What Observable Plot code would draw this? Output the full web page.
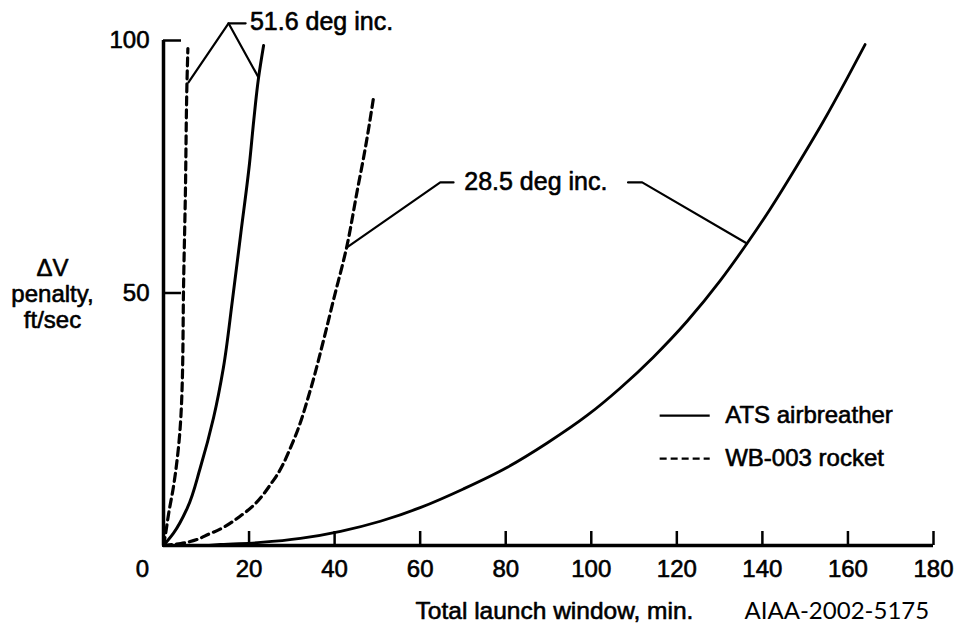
<!DOCTYPE html>
<html><head><meta charset="utf-8">
<script src="https://cdn.jsdelivr.net/npm/d3@7"></script>
<script src="https://cdn.jsdelivr.net/npm/@observablehq/plot@0.6"></script>
<style>body{margin:0;background:#fff;} svg{display:block}</style>
</head><body><div id="chart"></div>
<script>
// Tick values / labels
const xTicks = [0, 20, 40, 60, 80, 100, 120, 140, 160, 180];
const yTicks = [50, 100];

// Series: [launch window (min), delta-V penalty (ft/sec)]
const ats516 = [[0,0],[2.3,2.4],[5.6,7.5],[8.6,15.4],[11.7,25.3],[14.0,35.2],[16.1,48.5],[18.1,62.0],[20.1,75.6],[21.1,84.2],[22.2,92.5],[23.4,99.0]];
const wb516  = [[0,0],[0.5,2.4],[1.2,6.3],[2.3,11.5],[3.5,19.4],[4.4,32.7],[4.7,51.9],[5.1,68.9],[5.5,92.1],[5.7,98.4]];
const wb285  = [[0,0],[4.0,0.4],[11.0,2.4],[18.7,6.3],[25.7,12.9],[30.4,20.8],[34.3,30.7],[37.4,40.6],[39.7,48.5],[42.8,59.0],[45.3,70.3],[47.2,78.8],[49.1,88.7]];
const ats285 = [[10,0],[13.3,0.2],[22.7,0.6],[32.0,1.4],[41.4,2.8],[50.7,4.8],[60.0,7.5],[70.1,11.2],[80.4,15.5],[89.7,20.3],[99.1,25.8],[106.8,31.2],[114.5,37.3],[122.4,44.4],[130.1,52.4],[136.4,59.8],[141.8,66.6],[148.1,75.2],[154.2,83.9],[159.8,92.5],[164.0,99.2]];

// Annotation leaders (data coordinates)
const lead516a = [[5.84,91.7],[15.2,103.4],[19.2,103.4]];
const lead516b = [[15.2,103.4],[22.2,92.7]];
const lead285a = [[42.8,59.0],[64.7,71.9],[67.8,71.9]];
const lead285b = [[108.6,71.9],[111.9,71.9],[136.4,59.8]];
const labels = [
  {x: 20.2, y: 103.6, text: "51.6 deg inc."},
  {x: 70.3, y: 71.9, text: "28.5 deg inc."}
];
// Legend
const legendNames = ["ATS airbreather", "WB-003 rocket"];
const legendY = [25.7, 17.2];
const legendX = [116.1, 127.8];

const W = 955, H = 636;
const mL = 163, mR = 22, mT = 40, mB = 91;
const plotW = W - mL - mR, plotH = H - mT - mB;
const font = "Liberation Sans, Arial, Helvetica, sans-serif";
const txt = {fontFamily: font, fontSize: 24, fill: "black", stroke: "black", strokeWidth: 0.6};

const P = d => ({x: d[0], y: d[1]});
const dash = "8,5";

const chart = Plot.plot({
  width: W, height: H,
  marginLeft: mL, marginRight: mR, marginTop: mT, marginBottom: mB,
  x: {domain: [0, 180], axis: null},
  y: {domain: [0, 100], axis: null},
  style: {background: "white", overflow: "visible"},
  marks: [
    // axes
    Plot.ruleY([0], {stroke: "black", strokeWidth: 3.5}),
    Plot.ruleX([0], {stroke: "black", strokeWidth: 3.5}),
    Plot.tickX(xTicks.filter(d => d > 0), {x: d => d, insetTop: plotH - 14, stroke: "black", strokeWidth: 2.5}),
    Plot.tickY(yTicks, {y: d => d, insetRight: plotW - 18, stroke: "black", strokeWidth: 2.5}),
    Plot.text(xTicks.filter(d => d > 0), {x: d => d, text: d => String(d), frameAnchor: "bottom", dy: 31, ...txt}),
    Plot.text([xTicks[0]], {x: d => d, text: d => String(d), frameAnchor: "bottom", dy: 31, dx: -21, ...txt}),
    Plot.text(yTicks, {y: d => d, text: d => String(d), frameAnchor: "left", textAnchor: "end", dx: -14, ...txt}),
    // axis titles
    Plot.text(["ΔV\npenalty,\nft/sec"], {y: 49.9, frameAnchor: "left", dx: -111, textAnchor: "middle", lineHeight: 1.1, text: d => d, ...txt}),
    Plot.text(["Total launch window, min."], {x: 91.4, frameAnchor: "bottom", dy: 73, text: d => d, ...txt, fontSize: 24.5}),
    Plot.text(["AIAA-2002-5175"], {x: 157.4, frameAnchor: "bottom", dy: 73, text: d => d, fontFamily: "Lato, Open Sans, sans-serif", fontSize: 24, fill: "black"}),
    // curves
    Plot.line(ats516.map(P), {x: "x", y: "y", curve: "monotone-y", stroke: "black", strokeWidth: 3}),
    Plot.line(wb516.map(P), {x: "x", y: "y", curve: "monotone-y", stroke: "black", strokeWidth: 3.2, strokeDasharray: dash}),
    Plot.line(wb285.map(P), {x: "x", y: "y", curve: "monotone-y", stroke: "black", strokeWidth: 3.2, strokeDasharray: dash}),
    Plot.line(ats285.map(P), {x: "x", y: "y", curve: "monotone-x", stroke: "black", strokeWidth: 2.8}),
    // leaders
    ...[lead516a, lead516b, lead285a, lead285b].map(l => Plot.line(l.map(P), {x: "x", y: "y", stroke: "black", strokeWidth: 2.2})),
    Plot.text(labels, {x: "x", y: "y", text: "text", textAnchor: "start", ...txt, fontSize: 25}),
    // legend
    Plot.ruleY([legendY[0]], {y: d => d, x1: legendX[0], x2: legendX[1], stroke: "black", strokeWidth: 2.2}),
    Plot.ruleY([legendY[1]], {y: d => d, x1: legendX[0], x2: legendX[1], stroke: "black", strokeWidth: 2.2, strokeDasharray: "7,4"}),
    Plot.text(legendNames, {x: legendX[1], y: (d, i) => legendY[i], text: d => d, textAnchor: "start", dx: 15, ...txt})
  ]
});
document.getElementById("chart").appendChild(chart);
</script>
</body></html>
